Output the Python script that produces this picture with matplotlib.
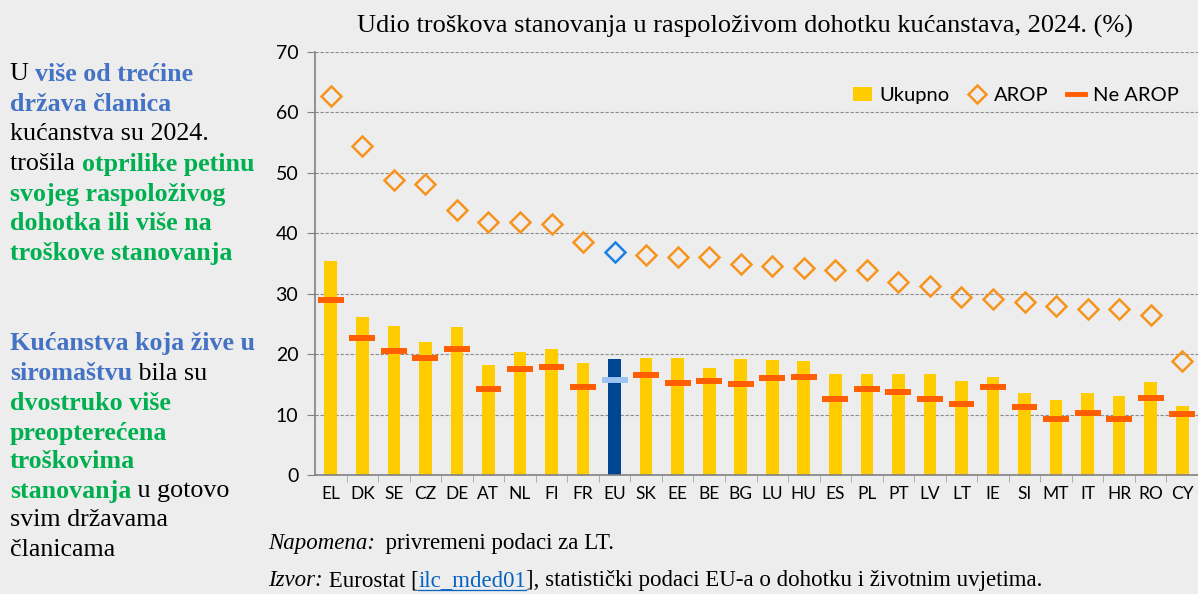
import matplotlib
matplotlib.use("Agg")
import matplotlib.pyplot as plt
from matplotlib.lines import Line2D
from matplotlib.patches import Patch
from matplotlib.transforms import offset_copy

# podaci
zemlje = ["EL", "DK", "SE", "CZ", "DE", "AT", "NL", "FI", "FR", "EU", "SK", "EE", "BE", "BG",
          "LU", "HU", "ES", "PL", "PT", "LV", "LT", "IE", "SI", "MT", "IT", "HR", "RO", "CY"]
ukupno = [35.4, 26.2, 24.6, 22.0, 24.5, 18.2, 20.4, 20.8, 18.5, 19.2, 19.3, 19.4, 17.7, 19.2,
          19.0, 18.8, 16.7, 16.7, 16.7, 16.7, 15.5, 16.2, 13.6, 12.4, 13.6, 13.0, 15.4, 11.4]
arop = [62.7, 54.5, 48.8, 48.1, 43.8, 41.9, 41.8, 41.6, 38.6, 36.9, 36.4, 36.1, 36.1, 35.0,
        34.6, 34.3, 33.9, 33.9, 32.0, 31.2, 29.4, 29.1, 28.6, 27.9, 27.5, 27.5, 26.4, 18.9]
ne_arop = [29.0, 22.7, 20.6, 19.4, 20.9, 14.3, 17.6, 17.9, 14.6, 15.8, 16.6, 15.3, 15.5, 15.0,
           16.1, 16.3, 12.5, 14.2, 13.8, 12.6, 11.8, 14.5, 11.3, 9.3, 10.3, 9.3, 12.8, 10.1]
y_ticks = [0, 10, 20, 30, 40, 50, 60, 70]

BG = "#EDEDED"
ZUTA = "#FFCC00"
NARANCASTA = "#F7941D"
CRVENA = "#FF5F00"
PLAVA_TEKST = "#4472C4"
ZELENA = "#00B050"

W, H = 1198, 594
fig = plt.figure(figsize=(W / 100, H / 100), dpi=100, facecolor=BG)
ax = fig.add_axes([315 / W, 1 - 475 / H, 883 / W, 423 / H], facecolor=BG)

x = list(range(len(zemlje)))
eu = zemlje.index("EU")
boje_bar = ["#004494" if z == "EU" else ZUTA for z in zemlje]
ax.bar(x, ukupno, width=0.4, color=boje_bar, zorder=2)

for i in x:
    c = "#9DC3F0" if i == eu else CRVENA
    ax.hlines(ne_arop[i], i - 0.41, i + 0.41, colors=c, lw=4.3, zorder=3)

boje_arop = ["#1E7FE6" if z == "EU" else NARANCASTA for z in zemlje]
for i in x:
    ax.plot(i, arop[i], marker="D", ms=10, mfc="none", mec=boje_arop[i], mew=1.8,
            ls="none", zorder=4)

ax.set_xlim(-0.5, len(zemlje) - 0.5)
ax.set_ylim(0, 70)
ax.set_yticks(y_ticks)
ax.set_xticks(x)
ax.set_xticklabels(zemlje)
ax.set_xticks([i + 0.5 for i in x[:-1]], minor=True)
ax.tick_params(axis="x", which="major", length=0, pad=8, labelsize=12.5)
ax.tick_params(axis="x", which="minor", length=5, color="#A0A0A0")
ax.tick_params(axis="y", length=6, color="#808080", labelsize=14, pad=6)
for lab in ax.get_xticklabels() + ax.get_yticklabels():
    lab.set_fontfamily("Lato")
ax.grid(axis="y", color="#8C8C8C", ls=(0, (3, 1.5)), lw=0.8, zorder=0)
for s in ["top", "right"]:
    ax.spines[s].set_visible(False)
for s in ["left", "bottom"]:
    ax.spines[s].set_color("#808080")
    ax.spines[s].set_linewidth(1.2)

handles = [
    Patch(facecolor=ZUTA, edgecolor="none"),
    Line2D([], [], marker="D", ms=9, mfc="none", mec=NARANCASTA, mew=1.8, ls="none"),
    Line2D([], [], color=CRVENA, lw=3.5),
]
ax.legend(handles, ["Ukupno", "AROP", "Ne AROP"], ncol=3, frameon=False, loc="center",
          bbox_to_anchor=(0.794, 0.898), prop={"family": "Lato", "size": 14.5},
          handlelength=0.9, handletextpad=0.4, columnspacing=0.9)

fig.text(745 / W, 1 - 26 / H,
         "Udio troškova stanovanja u raspoloživom dohotku kućanstava, 2024. (%)",
         ha="center", va="center", family="Liberation Serif", fontsize=19)


# tekst s više boja u jednom retku
def redak(y_px, dijelovi, x_px=10, size=18.7):
    xx = x_px / W
    yy = 1 - y_px / H
    trans = fig.transFigure
    for tekst, boja, tezina in dijelovi:
        txt = fig.text(xx, yy, tekst, color=boja, weight=tezina, family="Liberation Serif",
                       fontsize=size, va="center_baseline", ha="left", transform=trans)
        txt.draw(fig.canvas.get_renderer())
        ext = txt.get_window_extent()
        trans = offset_copy(txt.get_transform(), fig=fig, x=ext.width, units="dots")
    return txt


fig.canvas.draw()
B, N = "bold", "normal"
redovi = [
    (72, [("U ", "black", N), ("više od trećine", PLAVA_TEKST, B)]),
    (102, [("država članica", PLAVA_TEKST, B)]),
    (132, [("kućanstva su 2024.", "black", N)]),
    (162, [("trošila ", "black", N), ("otprilike petinu", ZELENA, B)]),
    (192, [("svojeg raspoloživog", ZELENA, B)]),
    (221, [("dohotka ili više na", ZELENA, B)]),
    (251, [("troškove stanovanja", ZELENA, B)]),
    (341, [("Kućanstva koja žive u", PLAVA_TEKST, B)]),
    (371, [("siromaštvu", PLAVA_TEKST, B), (" bila su", "black", N)]),
    (401, [("dvostruko više", ZELENA, B)]),
    (431, [("preopterećena", ZELENA, B)]),
    (459, [("troškovima", ZELENA, B)]),
    (489, [("stanovanja", ZELENA, B), (" u gotovo", "black", N)]),
    (518, [("svim državama", "black", N)]),
    (548, [("članicama", "black", N)]),
]
for y_px, dijelovi in redovi:
    redak(y_px, dijelovi)

redak(541, [("Napomena:", "black", N), ("  privremeni podaci za LT.", "black", N)], x_px=268, size=16.5)
fig.texts[-2].set_style("italic")

dijelovi = [("Izvor:", "black", N), (" Eurostat [", "black", N), ("ilc_mded01", "#0563C1", N),
            ("], statistički podaci EU-a o dohotku i životnim uvjetima.", "black", N)]
redak(578, dijelovi, x_px=268, size=16.5)
n = len(dijelovi)
fig.texts[-n].set_style("italic")
link = fig.texts[-2]
fig.canvas.draw()
e = link.get_window_extent()
fig.add_artist(Line2D([e.x0 / W, e.x1 / W], [(e.y0 + 1) / H, (e.y0 + 1) / H],
                      color="#0563C1", lw=0.9, transform=fig.transFigure))

fig.savefig("out.png", dpi=100, facecolor=BG)
